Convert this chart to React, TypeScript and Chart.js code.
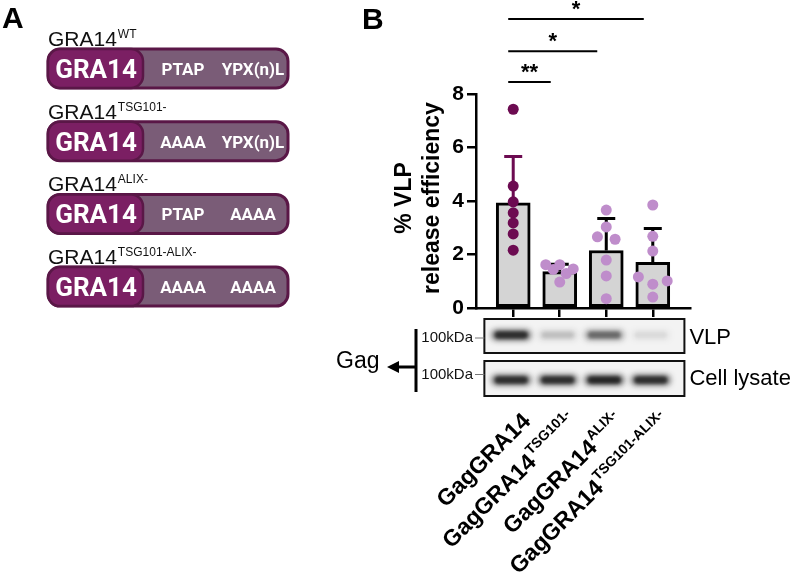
import React, { useEffect, useRef } from "react";
import { Chart, registerables } from "chart.js";
Chart.register(...registerables);

// ---------- data ----------
const categories = ["GagGRA14", "GagGRA14", "GagGRA14", "GagGRA14"];
const superscripts = ["", "TSG101-", "ALIX-", "TSG101-ALIX-"];
const means = [3.93, 1.36, 2.15, 1.71];
const sds = [1.73, 0.28, 1.2, 1.26];
const g1 = [7.43, 4.56, 3.97, 3.56, 3.18, 2.77, 2.16];
const g1Jitter = [0, 0, 0, 0, 0, 0, 0];
const g2 = [1.62, 1.44, 1.62, 0.97, 1.29, 1.46];
const g2Jitter = [-0.3, -0.14, 0, 0, 0.14, 0.29];
const g3 = [3.66, 3.03, 2.66, 2.57, 1.79, 1.2, 0.35];
const g3Jitter = [0, 0, -0.19, 0.19, 0, 0, 0];
const g4 = [3.85, 2.68, 2.13, 1.16, 0.89, 1.01, 0.41];
const g4Jitter = [0, 0, 0, -0.31, 0, 0.31, 0];
const yTicks = [0, 2, 4, 6, 8];
const sigFrom = [0, 0, 0];
const sigTo = [1, 2, 3];
const sigLabels = ["**", "*", "*"];
const sigLevels = [8.45, 9.6, 10.8];
const vlpBand = [0.85, 0.16, 0.5, 0.07];
const lysateBand = [0.85, 0.85, 0.9, 0.85];
const constructNames = ["GRA14", "GRA14", "GRA14", "GRA14"];
const constructSups = ["WT", "TSG101-", "ALIX-", "TSG101-ALIX-"];
const motif1 = ["PTAP", "AAAA", "PTAP", "AAAA"];
const motif2 = ["YPX(n)L", "YPX(n)L", "AAAA", "AAAA"];

const groups = [g1, g2, g3, g4];
const jitters = [g1Jitter, g2Jitter, g3Jitter, g4Jitter];
const DARK = "#6c0b51";
const LIGHT = "#bf8dcb";

function rr(ctx: CanvasRenderingContext2D, x: number, y: number, w: number, h: number, r: number) {
  ctx.beginPath();
  ctx.moveTo(x + r, y);
  ctx.lineTo(x + w - r, y);
  ctx.arcTo(x + w, y, x + w, y + r, r);
  ctx.lineTo(x + w, y + h - r);
  ctx.arcTo(x + w, y + h, x + w - r, y + h, r);
  ctx.lineTo(x + r, y + h);
  ctx.arcTo(x, y + h, x, y + h - r, r);
  ctx.lineTo(x, y + r);
  ctx.arcTo(x, y, x + r, y, r);
  ctx.closePath();
}

const decorPlugin = {
  id: "decor",
  afterDatasetDraw(chart: any, args: any) {
    if (args.index !== 0) return;
    const ctx = chart.ctx as CanvasRenderingContext2D;
    const xs = chart.scales.x;
    const ys = chart.scales.y;
    ctx.save();
    means.forEach((m, i) => {
      const x = xs.getPixelForValue(i);
      const y0 = ys.getPixelForValue(m);
      const y1 = ys.getPixelForValue(m + sds[i]);
      ctx.strokeStyle = i === 0 ? DARK : "#000";
      ctx.lineWidth = 3;
      ctx.beginPath();
      ctx.moveTo(x, y0);
      ctx.lineTo(x, y1);
      ctx.moveTo(x - 9, y1);
      ctx.lineTo(x + 9, y1);
      ctx.stroke();
    });
    ctx.restore();
  },
  afterDraw(chart: any) {
    const ctx = chart.ctx as CanvasRenderingContext2D;
    const xs = chart.scales.x;
    const ys = chart.scales.y;
    const area = chart.chartArea;
    ctx.save();
    ctx.fillStyle = "#000";
    // Panel letters
    ctx.font = "bold 30px Arial";
    ctx.textBaseline = "alphabetic";
    ctx.textAlign = "left";
    ctx.fillText("A", 2, 28);
    ctx.fillText("B", 362, 29);

    // Panel A constructs
    constructNames.forEach((name, k) => {
      const top = 49 + k * 72.7;
      const bx = 48, bw = 240, bh = 39;
      ctx.fillStyle = "#111";
      ctx.font = "21px Arial";
      ctx.textAlign = "left";
      ctx.fillText(name, bx, top - 3);
      const w = ctx.measureText(name).width;
      ctx.font = "12px Arial";
      ctx.fillText(constructSups[k], bx + w + 1, top - 11);
      rr(ctx, bx, top, bw, bh, 12);
      ctx.fillStyle = "#7a5c77";
      ctx.fill();
      ctx.lineWidth = 3;
      ctx.strokeStyle = "#5a1747";
      ctx.stroke();
      rr(ctx, bx, top, 95, bh, 12);
      ctx.fillStyle = "#7b1f63";
      ctx.fill();
      ctx.lineWidth = 2.5;
      ctx.stroke();
      ctx.fillStyle = "#fff";
      ctx.textAlign = "center";
      ctx.font = "bold 26px Roboto";
      ctx.fillText(name, bx + 48, top + 29);
      ctx.font = "bold 17px Roboto";
      ctx.fillText(motif1[k], 183, top + 26);
      ctx.fillText(motif2[k], 253, top + 26);
    });

    // Y axis title
    ctx.fillStyle = "#000";
    ctx.save();
    ctx.translate(405, (area.top + area.bottom) / 2 - 3);
    ctx.rotate(-Math.PI / 2);
    ctx.font = "bold 23px Arial";
    ctx.textAlign = "center";
    ctx.textBaseline = "middle";
    ctx.fillText("% VLP", 0, 0);
    ctx.fillText("release efficiency", 0, 28);
    ctx.restore();

    // significance
    ctx.strokeStyle = "#000";
    ctx.lineWidth = 2;
    ctx.font = "bold 22px Arial";
    ctx.textAlign = "center";
    ctx.textBaseline = "middle";
    sigLabels.forEach((lab, k) => {
      const x0 = xs.getPixelForValue(sigFrom[k]) - 5;
      const x1 = xs.getPixelForValue(sigTo[k]) - 9;
      const y = ys.getPixelForValue(sigLevels[k]);
      ctx.beginPath();
      ctx.moveTo(x0, y);
      ctx.lineTo(x1, y);
      ctx.stroke();
      ctx.fillText(lab, (x0 + x1) / 2, y - 9);
    });

    // blots
    const bl = xs.getPixelForValue(-0.62);
    const br = xs.getPixelForValue(3.68);
    const boxes = [
      { t: 319, b: 353, vals: vlpBand, cy: 335, h: 9 },
      { t: 361, b: 396, vals: lysateBand, cy: 380, h: 9 },
    ];
    boxes.forEach((bx) => {
      ctx.fillStyle = "#f3f3f3";
      ctx.fillRect(bl, bx.t, br - bl, bx.b - bx.t);
      ctx.save();
      ctx.beginPath();
      ctx.rect(bl, bx.t, br - bl, bx.b - bx.t);
      ctx.clip();
      bx.vals.forEach((v, i) => {
        const cx = xs.getPixelForValue(i) - 2;
        ctx.filter = "blur(3px)";
        ctx.fillStyle = `rgba(20,20,20,${v})`;
        rr(ctx, cx - 19, bx.cy - bx.h / 2, 38, bx.h, 4);
        ctx.fill();
        ctx.filter = "blur(1.5px)";
        ctx.fillStyle = `rgba(10,10,10,${v * 0.6})`;
        rr(ctx, cx - 16, bx.cy - bx.h / 2 + 1, 32, bx.h - 2, 3);
        ctx.fill();
      });
      ctx.restore();
      ctx.filter = "none";
      ctx.strokeStyle = "#111";
      ctx.lineWidth = 2;
      ctx.strokeRect(bl, bx.t, br - bl, bx.b - bx.t);
      ctx.fillStyle = "#111";
      ctx.font = "15px Arial";
      ctx.textAlign = "right";
      ctx.textBaseline = "middle";
      const my = (bx.t + bx.b) / 2 + (bx.t > 340 ? -4 : 2);
      ctx.fillText("100kDa", 473, my);
      ctx.strokeStyle = "#777";
      ctx.lineWidth = 1;
      ctx.beginPath();
      ctx.moveTo(475, my);
      ctx.lineTo(bl, my);
      ctx.stroke();
    });
    ctx.fillStyle = "#000";
    ctx.font = "22px Arial";
    ctx.textAlign = "left";
    ctx.textBaseline = "middle";
    ctx.fillText("VLP", br + 5, 338);
    ctx.fillText("Cell lysate", br + 5, 379);
    ctx.font = "23px Arial";
    ctx.fillText("Gag", 336, 362);
    ctx.strokeStyle = "#000";
    ctx.lineWidth = 3;
    ctx.beginPath();
    ctx.moveTo(416, 329);
    ctx.lineTo(416, 392);
    ctx.moveTo(416, 367);
    ctx.lineTo(396, 367);
    ctx.stroke();
    ctx.beginPath();
    ctx.moveTo(387, 367);
    ctx.lineTo(399, 361);
    ctx.lineTo(399, 373);
    ctx.closePath();
    ctx.fill();

    // rotated category labels
    categories.forEach((c, i) => {
      const ax = xs.getPixelForValue(i) + 14;
      const ay = 418;
      ctx.save();
      ctx.translate(ax, ay);
      ctx.rotate(-Math.PI / 4);
      ctx.font = "bold 14px Arial";
      const ws = superscripts[i] ? ctx.measureText(superscripts[i]).width + 1 : 0;
      ctx.font = "bold 23px Arial";
      const wm = ctx.measureText(c).width;
      ctx.textAlign = "left";
      ctx.textBaseline = "middle";
      ctx.fillText(c, -(wm + ws), 0);
      if (superscripts[i]) {
        ctx.font = "bold 14px Arial";
        ctx.fillText(superscripts[i], -ws + 1, -8);
      }
      ctx.restore();
    });
    ctx.restore();
  },
};

export default function App() {
  const ref = useRef<HTMLCanvasElement>(null);
  useEffect(() => {
    if (!ref.current) return;
    const pts: any[] = [];
    const cols: string[] = [];
    groups.forEach((g, i) =>
      g.forEach((v, j) => {
        pts.push({ x: i + jitters[i][j], y: v });
        cols.push(i === 0 ? DARK : LIGHT);
      })
    );
    const chart = new Chart(ref.current, {
      type: "bar",
      data: {
        datasets: [
          {
            type: "bar",
            data: means.map((m, i) => ({ x: i, y: m })),
            backgroundColor: "#d4d4d4",
            borderColor: "#000",
            borderWidth: 3,
            borderSkipped: false,
            barThickness: 34,
            order: 2,
          } as any,
          {
            type: "scatter",
            data: pts,
            pointBackgroundColor: cols,
            pointBorderWidth: 0,
            pointRadius: 5.5,
            order: 1,
          } as any,
        ],
      },
      options: {
        animation: false,
        responsive: false,
        devicePixelRatio: 1,
        layout: { padding: { left: 0, top: 94, right: 110, bottom: 0 } },
        plugins: { legend: { display: false }, tooltip: { enabled: false } },
        scales: {
          x: {
            type: "linear",
            offset: false,
            min: -0.8,
            max: 3.8,
            afterBuildTicks: (s: any) => {
              s.ticks = [0, 1, 2, 3].map((v) => ({ value: v }));
            },
            afterFit: (s: any) => {
              s.height = 574 - 308;
            },
            ticks: { display: false },
            grid: { offset: false, drawOnChartArea: false, tickLength: 9, color: "#000", lineWidth: 2.5 },
            border: { color: "#000", width: 2.5 },
          },
          y: {
            min: 0,
            max: 8,
            afterBuildTicks: (s: any) => {
              s.ticks = yTicks.map((v) => ({ value: v }));
            },
            afterFit: (s: any) => {
              s.width = 476;
            },
            ticks: { color: "#000", font: { family: "Arial", size: 21, weight: "bold" }, padding: 3 },
            grid: { drawOnChartArea: false, tickLength: 9, color: "#000", lineWidth: 2.5 },
            border: { color: "#000", width: 2.5 },
          },
        },
      } as any,
      plugins: [decorPlugin],
    });
    return () => chart.destroy();
  }, []);
  return (
    <div style={{ position: "fixed", left: 0, top: 0, width: 800, height: 574, background: "#fff" }}>
      <canvas ref={ref} width={800} height={574} style={{ width: 800, height: 574 }} />
    </div>
  );
}
